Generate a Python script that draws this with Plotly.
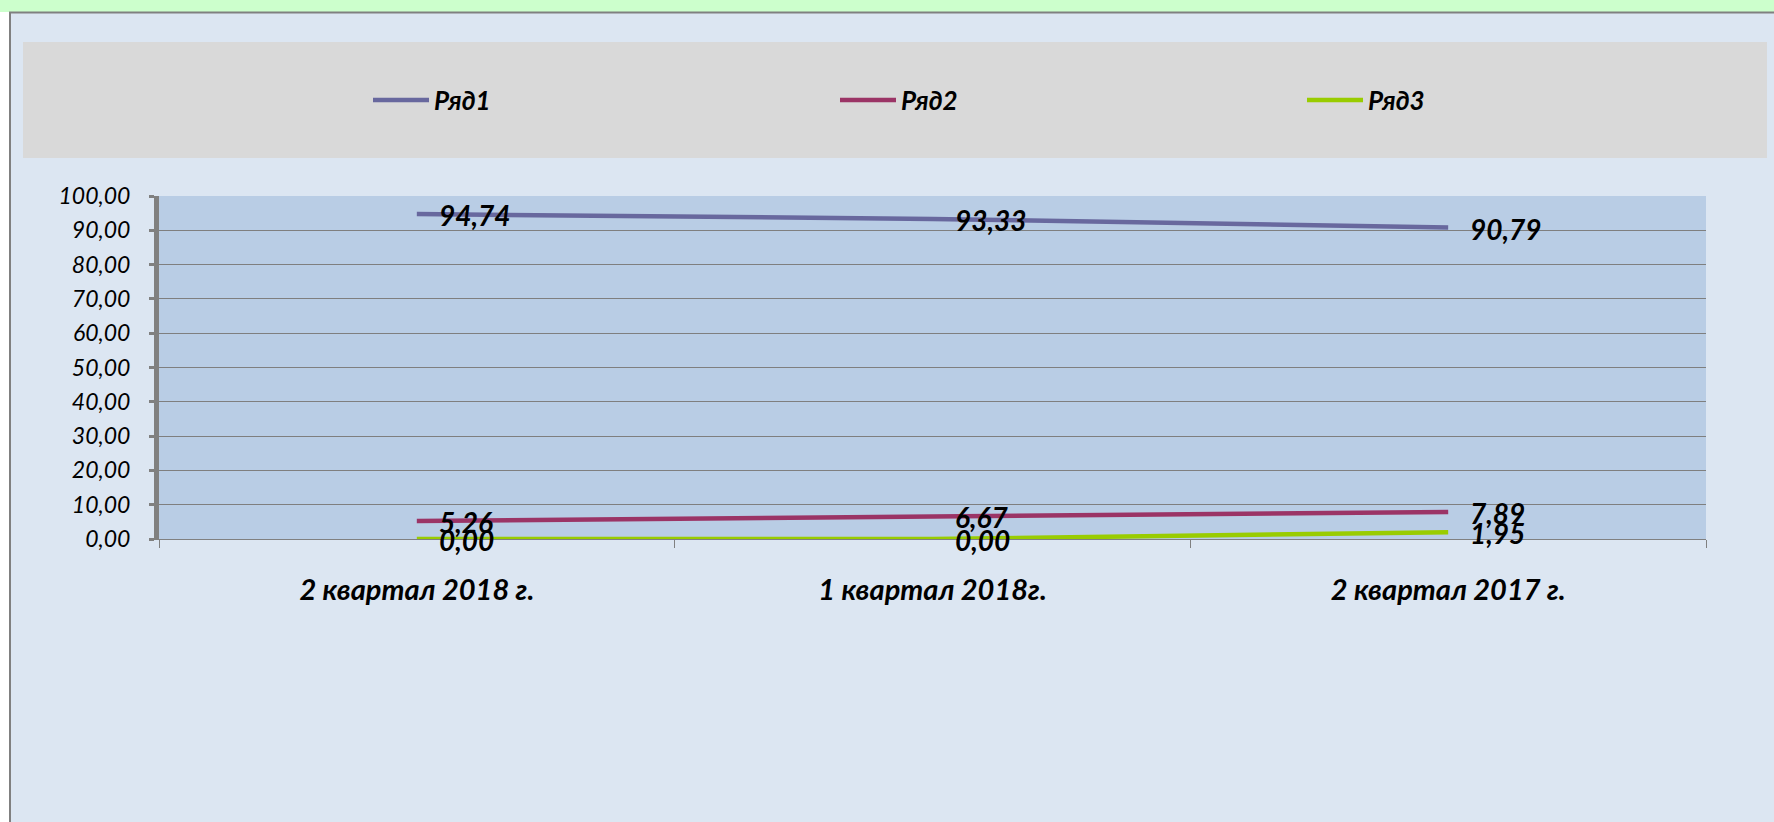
import plotly.graph_objects as go

categories = ["2 квартал 2018 г.", "1 квартал 2018г.", "2 квартал 2017 г."]
series_names = ["Ряд1", "Ряд2", "Ряд3"]
ryad1 = [94.74, 93.33, 90.79]
ryad2 = [5.26, 6.67, 7.89]
ryad3 = [0.00, 0.00, 1.95]
y_ticks = [0, 10, 20, 30, 40, 50, 60, 70, 80, 90, 100]

colors = ["#68689E", "#9B3466", "#99CC00"]
FONT = "Lato"

W, H = 1774, 822
L, R, T, B = 159, 1706, 196, 539


def pxx(x):
    return (x - L) / (R - L)


def pxy(y):
    return (B - y) / (B - T)


fig = go.Figure()
for name, vals, col in zip(series_names, [ryad1, ryad2, ryad3], colors):
    fig.add_trace(go.Scatter(
        x=categories, y=vals, name=name, mode="lines",
        line=dict(color=col, width=4.5),
        hoverinfo="skip",
    ))

annotations = []
for vals in [ryad1, ryad2, ryad3]:
    for c, v in zip(categories, vals):
        annotations.append(dict(
            x=c, y=v, xref="x", yref="y",
            text=f"{v:.2f}".replace(".", ","),
            showarrow=False, xanchor="left", yanchor="middle",
            xshift=20, yshift=-1,
            font=dict(family=FONT, size=28, color="black", style="italic", weight="bold"),
        ))

shapes = [
    dict(type="rect", xref="paper", yref="paper", x0=pxx(0), x1=pxx(10), y0=pxy(822), y1=pxy(0),
         fillcolor="white", line=dict(width=0), layer="below"),
    dict(type="rect", xref="paper", yref="paper", x0=pxx(0), x1=pxx(W), y0=pxy(12), y1=pxy(0),
         fillcolor="#CCFFCC", line=dict(width=0), layer="below"),
    dict(type="line", xref="paper", yref="paper", x0=pxx(9), x1=pxx(W), y0=pxy(12.5), y1=pxy(12.5),
         line=dict(color="#808080", width=2), layer="below"),
    dict(type="line", xref="paper", yref="paper", x0=pxx(10), x1=pxx(10), y0=pxy(12), y1=pxy(822),
         line=dict(color="#808080", width=2), layer="below"),
    dict(type="rect", xref="paper", yref="paper", x0=pxx(23), x1=pxx(1767), y0=pxy(158), y1=pxy(42),
         fillcolor="#D9D9D9", line=dict(width=0), layer="below"),
]

fig.update_layout(
    width=W, height=H,
    margin=dict(l=L, r=W - R, t=T, b=H - B, autoexpand=False),
    paper_bgcolor="#DCE6F2",
    plot_bgcolor="#B9CDE5",
    separators=", ",
    font=dict(family=FONT, color="black"),
    showlegend=True,
    legend=dict(
        orientation="h", x=pxx(368), xanchor="left", y=pxy(100), yanchor="middle",
        bgcolor="rgba(0,0,0,0)", entrywidth=396, entrywidthmode="pixels", itemwidth=56,
        font=dict(family=FONT, size=26, color="black", style="italic", weight="bold"),
    ),
    xaxis=dict(
        type="category", range=[-0.5, 2.5],
        showgrid=False, zeroline=False,
        showline=True, linecolor="#808080", linewidth=1,
        ticks="outside", tickson="boundaries", ticklen=8, tickcolor="#808080", tickwidth=1,
        tickfont=dict(family=FONT, size=29, color="black", style="italic", weight="bold"),
        ticklabelstandoff=25,
        fixedrange=True,
    ),
    yaxis=dict(
        range=[0, 100], tickvals=y_ticks, tickformat=".2f",
        showgrid=True, gridcolor="#7F7F7F", gridwidth=1,
        zeroline=False,
        showline=True, linecolor="#808080", linewidth=5,
        ticks="outside", ticklen=5, tickwidth=3, tickcolor="#808080",
        tickfont=dict(family=FONT, size=23, color="black", style="italic"),
        ticklabelstandoff=14,
        fixedrange=True,
    ),
    shapes=shapes,
    annotations=annotations,
)

fig.write_html(
    "out.html",
    config={"displayModeBar": False},
    post_script="document.body.style.margin='0';document.body.style.overflow='hidden';",
)
